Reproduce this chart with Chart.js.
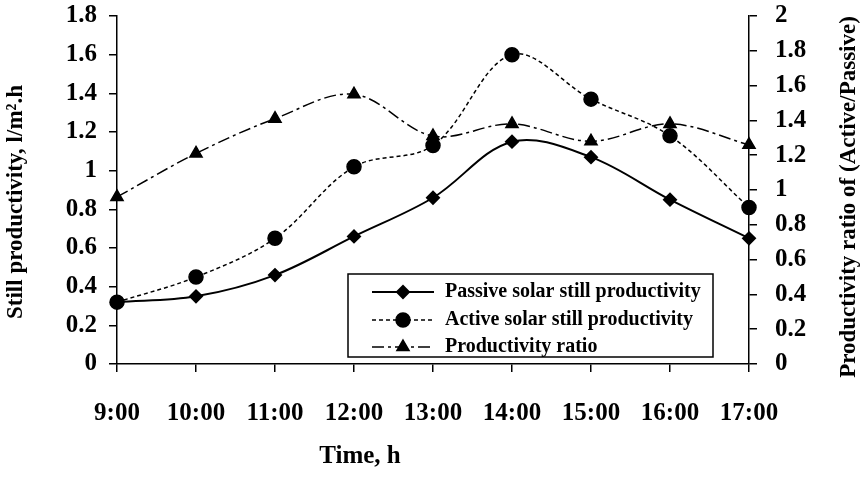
<!DOCTYPE html>
<html>
<head>
<meta charset="utf-8">
<script src="https://cdn.jsdelivr.net/npm/chart.js@4.4.1/dist/chart.umd.min.js"></script>
<style>
    html, body { margin: 0; padding: 0; background: #fff; }
    #wrap { width: 864px; height: 497px; }
</style>
</head>
<body>
<div id="wrap"><canvas id="chart"></canvas></div>
<script>
const timeLabels = ['9:00', '10:00', '11:00', '12:00', '13:00', '14:00', '15:00', '16:00', '17:00'];

// l/m2.h
const passiveData = [0.32, 0.35, 0.46, 0.66, 0.86, 1.15, 1.07, 0.85, 0.65];
const activeData = [0.32, 0.45, 0.65, 1.02, 1.13, 1.60, 1.37, 1.18, 0.81];

// active / passive
const ratioData = [0.96, 1.21, 1.41, 1.55, 1.31, 1.38, 1.28, 1.38, 1.26];

const serif = "'Liberation Serif', 'Times New Roman', serif";

const data = {
    labels: timeLabels,
    datasets: [{
        label: 'Passive solar still productivity',
        data: passiveData,
        yAxisID: 'y',
        borderColor: '#000',
        backgroundColor: '#000',
        borderWidth: 2,
        pointStyle: 'rectRot',
        pointRadius: 6,
        tension: 0.35
    },
    {
        label: 'Active solar still productivity',
        data: activeData,
        yAxisID: 'y',
        borderColor: '#000',
        backgroundColor: '#000',
        borderWidth: 1.5,
        borderDash: [4, 3],
        pointStyle: 'circle',
        pointRadius: 7,
        tension: 0.35
    },
    {
        label: 'Productivity ratio',
        data: ratioData,
        yAxisID: 'y1',
        borderColor: '#000',
        backgroundColor: '#000',
        borderWidth: 1.5,
        borderDash: [12, 4, 3, 4],
        pointStyle: 'triangle',
        pointRadius: 7,
        tension: 0.35
    }]
};

// legend box inside the plot, drawn from the datasets
const boxLegend = {
    id: 'boxLegend',
    afterDraw(chart) {
        const ctx = chart.ctx;
        ctx.save();
        ctx.fillStyle = '#fff';
        ctx.fillRect(348, 274, 365, 83);
        ctx.strokeStyle = '#000';
        ctx.lineWidth = 1.5;
        ctx.strokeRect(348, 274, 365, 83);
        const rows = [292, 320, 347];
        chart.data.datasets.forEach((ds, i) => {
            const y = rows[i];
            ctx.strokeStyle = '#000';
            ctx.lineWidth = ds.borderWidth;
            ctx.setLineDash(ds.borderDash || []);
            ctx.beginPath();
            ctx.moveTo(372, y);
            ctx.lineTo(434, y);
            ctx.stroke();
            ctx.setLineDash([]);
            ctx.fillStyle = '#000';
            Chart.helpers.drawPoint(ctx, {
                pointStyle: ds.pointStyle,
                radius: ds.pointRadius,
                rotation: 0,
                borderWidth: 1
            }, 403, y);
            ctx.fillStyle = '#000';
            ctx.font = 'bold 20px ' + serif;
            ctx.textAlign = 'left';
            ctx.textBaseline = 'middle';
            ctx.fillText(ds.label, 445, y);
        });
        ctx.restore();
    }
};

const axisTitles = {
    id: 'axisTitles',
    afterDraw(chart) {
        const ctx = chart.ctx;
        ctx.save();
        ctx.fillStyle = '#000';
        ctx.textAlign = 'center';
        ctx.textBaseline = 'middle';
        ctx.font = 'bold 25px ' + serif;
        ctx.fillText('Time, h', 360, 457);

        ctx.font = 'bold 23px ' + serif;
        ctx.translate(16, 202);
        ctx.rotate(-Math.PI / 2);
        ctx.fillText('Still productivity, l/m\u00b2.h', 0, 0);
        ctx.restore();

        ctx.save();
        ctx.fillStyle = '#000';
        ctx.textAlign = 'center';
        ctx.textBaseline = 'middle';
        ctx.font = 'bold 23px ' + serif;
        ctx.translate(849, 197);
        ctx.rotate(-Math.PI / 2);
        ctx.fillText('Productivity ratio of (Active/Passive)', 0, 0);
        ctx.restore();
    }
};

const tickFont = { family: serif, size: 25, weight: 'bold' };

const config = {
    type: 'line',
    data: data,
    options: {
        responsive: true,
        maintainAspectRatio: false,
        animation: false,
        layout: { padding: { top: 16, left: 0, right: 0, bottom: 0 } },
        plugins: {
            legend: { display: false },
            tooltip: { enabled: false }
        },
        scales: {
            x: {
                grid: { drawOnChartArea: false, color: '#000', tickLength: 8, lineWidth: 1.5 },
                border: { color: '#000', width: 1.5 },
                ticks: { color: '#000', font: tickFont, padding: 27, maxRotation: 0, autoSkip: false },
                afterFit: s => { s.height = 133; }
            },
            y: {
                position: 'left',
                min: 0,
                max: 1.8,
                grid: { drawOnChartArea: false, color: '#000', tickLength: 8, lineWidth: 1.5 },
                border: { color: '#000', width: 1.5 },
                ticks: {
                    stepSize: 0.2,
                    autoSkip: false,
                    color: '#000',
                    font: tickFont,
                    padding: 12,
                    callback: v => String(+v.toFixed(1))
                },
                afterFit: s => { s.width = 117; s.paddingTop = 0; s.paddingBottom = 0; }
            },
            y1: {
                position: 'right',
                min: 0,
                max: 2,
                grid: { drawOnChartArea: false, color: '#000', tickLength: 8, lineWidth: 1.5 },
                border: { color: '#000', width: 1.5 },
                ticks: {
                    stepSize: 0.2,
                    autoSkip: false,
                    color: '#000',
                    font: tickFont,
                    padding: 18,
                    callback: v => String(+v.toFixed(1))
                },
                afterFit: s => { s.width = 115; s.paddingTop = 0; s.paddingBottom = 0; }
            }
        }
    },
    plugins: [boxLegend, axisTitles]
};

const chart = new Chart(document.getElementById('chart'), config);
</script>
</body>
</html>
